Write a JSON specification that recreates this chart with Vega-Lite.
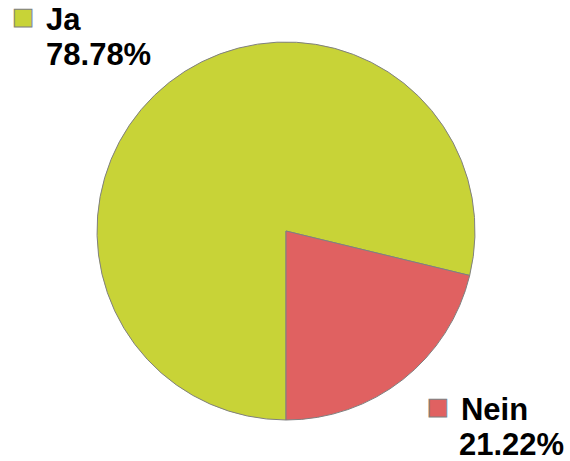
{
  "$schema": "https://vega.github.io/schema/vega-lite/v6.json",
  "autosize": {"type": "fit", "contains": "padding"},
  "width": 570,
  "height": 461,
  "padding": {"left": 2, "top": 5, "right": 0, "bottom": 0},
  "background": "white",
  "view": {"stroke": null},
  "data": {"values": [
    {"answer": "Ja", "share": 0.7878},
    {"answer": "Nein", "share": 0.2122}
  ]},
  "encoding": {
    "theta": {"field": "share", "type": "quantitative", "stack": true, "scale": {"range": [3.14159265, 9.42477796]}},
    "order": {"field": "answer", "type": "ordinal", "sort": "ascending"}
  },
  "layer": [
    {
      "mark": {"type": "arc", "radius": 189, "stroke": "#808080", "strokeWidth": 1},
      "encoding": {
        "color": {"field": "answer", "type": "nominal", "legend": null, "scale": {"domain": ["Ja", "Nein"], "range": ["#C8D337", "#E06161"]}}
      }
    },
    {
      "mark": {"type": "text", "radius": 270, "align": "center", "baseline": "middle", "font": "DejaVu Sans", "fontSize": 23, "stroke": "#808080", "strokeWidth": 1, "dx": -96, "dy": -2},
      "encoding": {
        "text": {"condition": {"test": "datum.answer === 'Ja'", "value": "■"}, "value": ""},
        "color": {"field": "answer", "type": "nominal", "legend": null}
      }
    },
    {
      "mark": {"type": "text", "radius": 270, "align": "left", "baseline": "alphabetic", "font": "Liberation Sans", "fontWeight": "bold", "fontSize": 31, "color": "black", "dx": -73, "dy": 11},
      "encoding": {
        "text": {"condition": {"test": "datum.answer === 'Ja'", "field": "answer", "type": "nominal"}, "value": ""}
      }
    },
    {
      "mark": {"type": "text", "radius": 270, "align": "left", "baseline": "alphabetic", "font": "Liberation Sans", "fontWeight": "bold", "fontSize": 31, "color": "black", "dx": -73, "dy": 46},
      "encoding": {
        "text": {"condition": {"test": "datum.answer === 'Ja'", "field": "share", "type": "quantitative", "format": ".2%"}, "value": ""}
      }
    },
    {
      "mark": {"type": "text", "radius": 270, "align": "center", "baseline": "middle", "font": "DejaVu Sans", "fontSize": 23, "stroke": "#808080", "strokeWidth": 1, "dx": -15, "dy": -36},
      "encoding": {
        "text": {"condition": {"test": "datum.answer === 'Nein'", "value": "■"}, "value": ""},
        "color": {"field": "answer", "type": "nominal", "legend": null}
      }
    },
    {
      "mark": {"type": "text", "radius": 270, "align": "left", "baseline": "alphabetic", "font": "Liberation Sans", "fontWeight": "bold", "fontSize": 31, "color": "black", "dx": 8, "dy": -23},
      "encoding": {
        "text": {"condition": {"test": "datum.answer === 'Nein'", "field": "answer", "type": "nominal"}, "value": ""}
      }
    },
    {
      "mark": {"type": "text", "radius": 270, "align": "left", "baseline": "alphabetic", "font": "Liberation Sans", "fontWeight": "bold", "fontSize": 31, "color": "black", "dx": 6, "dy": 12},
      "encoding": {
        "text": {"condition": {"test": "datum.answer === 'Nein'", "field": "share", "type": "quantitative", "format": ".2%"}, "value": ""}
      }
    }
  ]
}
